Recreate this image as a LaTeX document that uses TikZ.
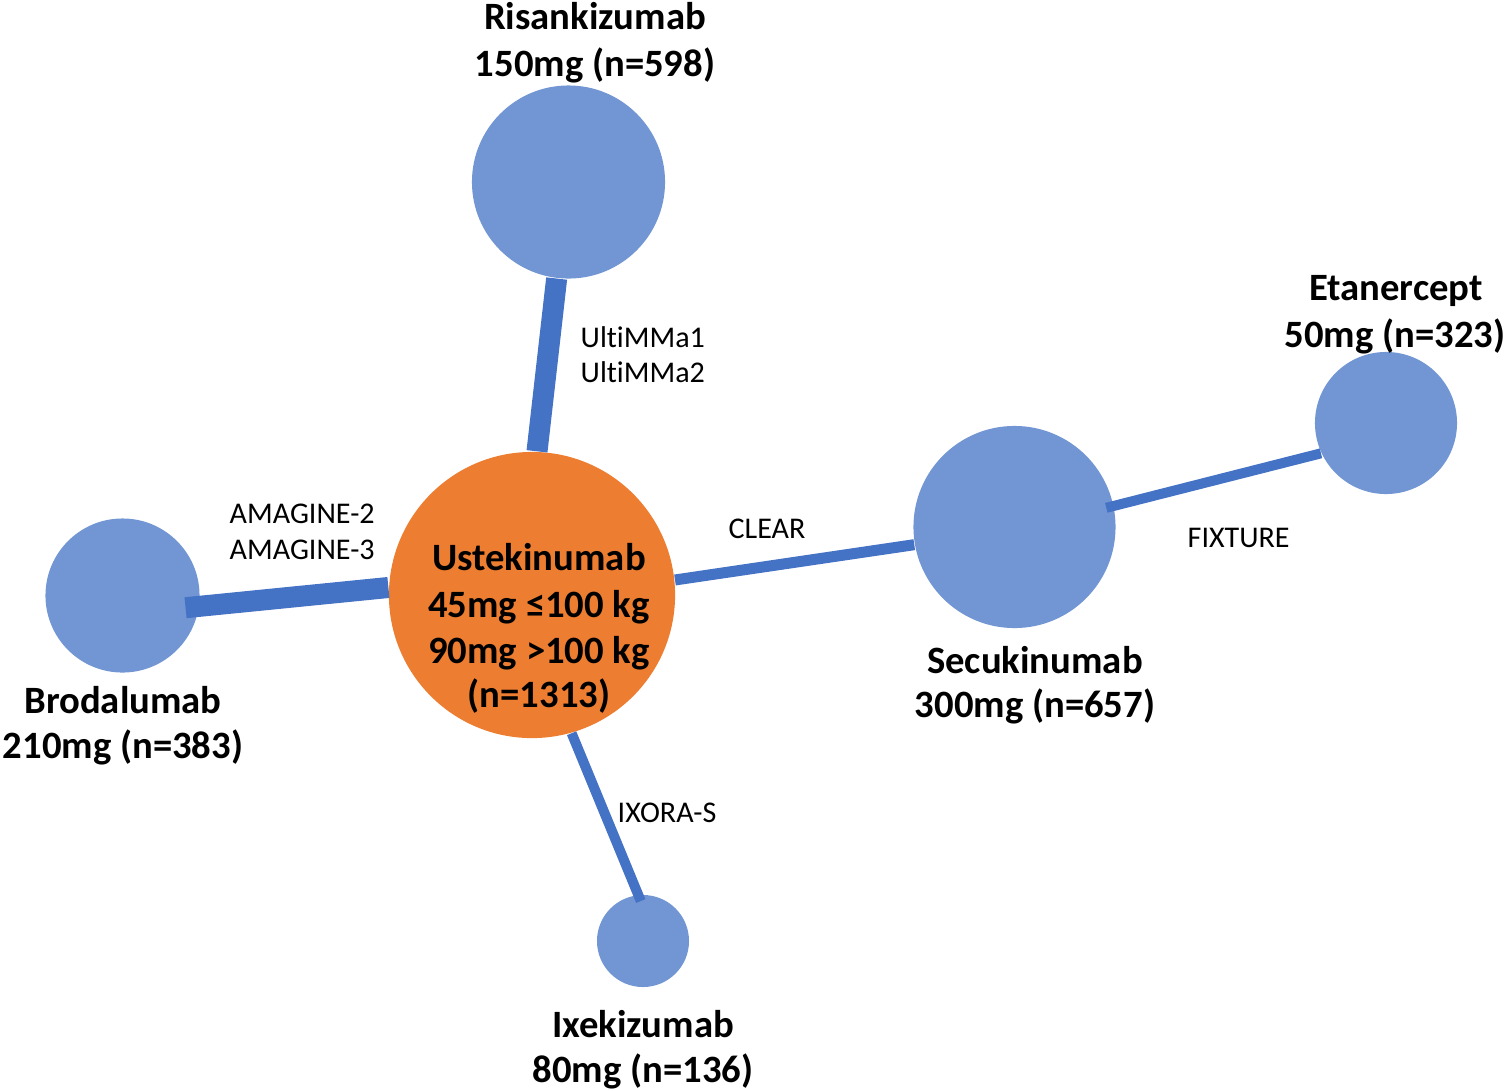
\documentclass[tikz,border=0pt]{standalone}
\usepackage{fontspec}
\setmainfont{Carlito}[Ligatures={NoCommon}]
\definecolor{nodeblue}{RGB}{114,150,211}
\definecolor{edgeblue}{RGB}{68,114,196}
\definecolor{ustorange}{RGB}{237,125,49}
\begin{document}
\begin{tikzpicture}[x=0.01cm,y=-0.01cm,
  trt/.style={circle,fill=nodeblue,inner sep=0pt,draw=none},
  link/.style={draw=edgeblue,line cap=butt},
  lbl/.style={font=\fontsize{11}{13}\selectfont\bfseries,anchor=base,inner sep=0pt},
  trial/.style={font=\fontsize{8.55}{10}\selectfont,anchor=base west,inner sep=0pt}]
\useasboundingbox (0,0) rectangle (1508,1090);
% treatment nodes
\node[trt,minimum size=1.93cm] (ris) at (568.5,182) {};
\node[circle,fill=ustorange,inner sep=0pt,minimum size=2.86cm] (ust) at (532,595) {};
\node[trt,minimum size=1.54cm] (bro) at (122.5,595.5) {};
\node[trt,minimum size=2.02cm] (sec) at (1014.5,527) {};
\node[trt,minimum size=1.42cm] (eta) at (1386,423) {};
\node[trt,minimum size=0.92cm] (ixe) at (643,941) {};
% connectors
\draw[link,line width=0.21cm] (ris.263) -- (ust.88);
\draw[link,line width=0.21cm,shorten >=-0.14cm] (ust.177) -- (bro.-8);
\draw[link,line width=0.11cm] (ust.6) -- (sec.190);
\draw[link,line width=0.10cm,shorten >=-0.08cm] (eta.205) -- (sec.12);
\draw[link,line width=0.10cm,shorten >=-0.07cm] (ust.-74) -- (ixe.96);
% treatment labels
\node[lbl] (risl1) at (595,29) {Risankizumab};
\node[lbl] (risl2) at (595,76) {150mg (n=598)};
\node[lbl] (etal1) at (1396,300) {Etanercept};
\node[lbl] (etal2) at (1395,347) {50mg (n=323)};
\node[lbl] (brol1) at (123,713) {Brodalumab};
\node[lbl] (brol2) at (123,758) {210mg (n=383)};
\node[lbl] (secl1) at (1035,673) {Secukinumab};
\node[lbl] (secl2) at (1035,717) {300mg (n=657)};
\node[lbl] (ixel1) at (643,1037) {Ixekizumab};
\node[lbl] (ixel2) at (643,1082) {80mg (n=136)};
\node[lbl] (ustl1) at (539,570) {Ustekinumab};
\node[lbl] (ustl2) at (539,617) {45mg ≤100 kg};
\node[lbl] (ustl3) at (539,663) {90mg >100 kg};
\node[lbl] (ustl4) at (539,707) {(n=1313)};
% trial labels
\node[trial] (t1) at (580,347) {UltiMMa1};
\node[trial] (t2) at (580,382) {UltiMMa2};
\node[trial] (t3) at (229,523) {AMAGINE-2};
\node[trial] (t4) at (229,559) {AMAGINE-3};
\node[trial] (t5) at (728,538) {CLEAR};
\node[trial] (t6) at (1187,547) {FIXTURE};
\node[trial] (t7) at (617,822) {IXORA-S};
\end{tikzpicture}
\end{document}
